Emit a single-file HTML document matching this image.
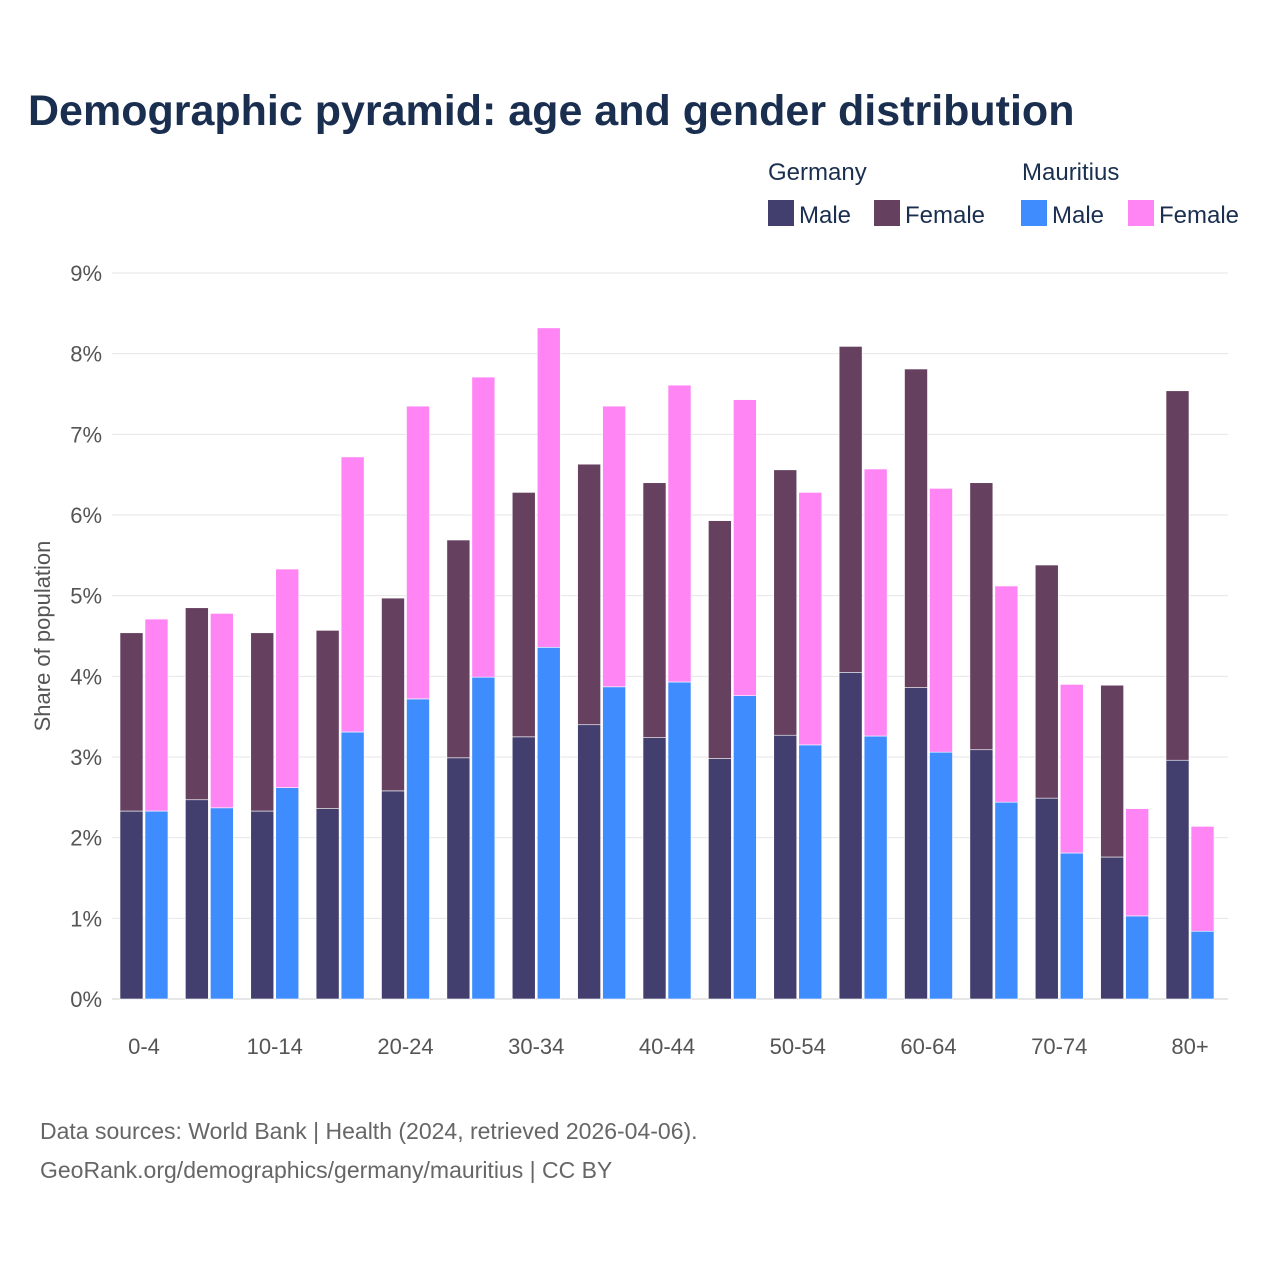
<!DOCTYPE html>
<html><head><meta charset="utf-8"><style>
html,body{margin:0;padding:0;background:#fff;width:1280px;height:1280px;overflow:hidden;font-family:"Liberation Sans",sans-serif;}
</style></head><body>
<svg id="chart" width="1280" height="1280" xmlns="http://www.w3.org/2000/svg" font-family="Liberation Sans, sans-serif">
<text x="28" y="125" font-size="43" font-weight="bold" fill="#1a2e4f">Demographic pyramid: age and gender distribution</text>
<g font-size="24" fill="#1a2e4f">
<text x="768" y="180">Germany</text>
<text x="1022" y="180">Mauritius</text>
<rect x="768" y="200" width="26" height="26" fill="#423f6f"/>
<text x="799" y="223">Male</text>
<rect x="874" y="200" width="26" height="26" fill="#66405f"/>
<text x="905" y="223">Female</text>
<rect x="1021" y="200" width="26" height="26" fill="#3f8cff"/>
<text x="1052" y="223">Male</text>
<rect x="1128" y="200" width="26" height="26" fill="#ff85f5"/>
<text x="1159" y="223">Female</text>
</g>
<text transform="translate(50,636) rotate(-90)" text-anchor="middle" font-size="22" fill="#555">Share of population</text>
<g id="grid"></g><g id="bars"></g><g id="xlabels"></g>
<text x="40" y="1139" font-size="23" fill="#666">Data sources: World Bank | Health (2024, retrieved 2026-04-06).</text>
<text x="40" y="1178" font-size="23" fill="#666">GeoRank.org/demographics/germany/mauritius | CC BY</text>
</svg>
<script>
const categories=["0-4","5-9","10-14","15-19","20-24","25-29","30-34","35-39","40-44","45-49","50-54","55-59","60-64","65-69","70-74","75-79","80+"];
const germanyMale=[2.33,2.47,2.33,2.36,2.58,2.99,3.25,3.40,3.24,2.98,3.27,4.05,3.86,3.09,2.49,1.76,2.96];
const germanyFemale=[2.21,2.38,2.21,2.21,2.39,2.70,3.03,3.23,3.16,2.95,3.29,4.04,3.95,3.31,2.89,2.13,4.58];
const mauritiusMale=[2.33,2.37,2.62,3.31,3.72,3.99,4.36,3.87,3.93,3.76,3.15,3.26,3.06,2.44,1.81,1.03,0.84];
const mauritiusFemale=[2.38,2.41,2.71,3.41,3.63,3.72,3.96,3.48,3.68,3.67,3.13,3.31,3.27,2.68,2.09,1.33,1.30];
const yTicks=[0,1,2,3,4,5,6,7,8,9];
const NS="http://www.w3.org/2000/svg";
const gx0=112,gx1=1228,bx0=111.3,bx1=1222.7,y0=999,yTop=273,yMax=9;
const band=(bx1-bx0)/categories.length;
function y(v){return y0-(v/yMax)*(y0-yTop);}
function xc(i){return bx0+band*(i+0.5);}
function mk(t,a,p){const e=document.createElementNS(NS,t);for(const k in a)e.setAttribute(k,a[k]);p.appendChild(e);return e;}
const grid=document.getElementById('grid'),bars=document.getElementById('bars'),xl=document.getElementById('xlabels');
yTicks.forEach(t=>{
 const l=mk('line',{x1:gx0,x2:gx1,y1:y(t),y2:y(t),stroke:t===0?'#ccc':'#e6e6e6','stroke-width':1},grid);
 
 
 const tx=mk('text',{x:102,y:y(t)+8,'text-anchor':'end','font-size':22,fill:'#555'},grid);
 tx.textContent=t+'%';
 
 
});
const bw=23,gap=1;
categories.forEach((c,i)=>{
 const cx=xc(i);
 const gx=cx-gap-bw, mx=cx+gap;
 const segs=[[gx,0,germanyMale[i],'#423f6f','bar-germany-male-'+c],
  [gx,germanyMale[i],germanyMale[i]+germanyFemale[i],'#66405f','bar-germany-female-'+c],
  [mx,0,mauritiusMale[i],'#3f8cff','bar-mauritius-male-'+c],
  [mx,mauritiusMale[i],mauritiusMale[i]+mauritiusFemale[i],'#ff85f5','bar-mauritius-female-'+c]];
 segs.forEach(s=>{
  const r=mk('rect',{x:s[0],y:y(s[2]),width:bw,height:y(s[1])-y(s[2]),fill:s[3],stroke:'#fff','stroke-width':0.6},bars);
  
  
 });
 if(i%2===0){
  const t=mk('text',{x:cx,y:1054,'text-anchor':'middle','font-size':22,fill:'#555'},xl);
  t.textContent=c;
  
  
 }
});
</script>
</body></html>
